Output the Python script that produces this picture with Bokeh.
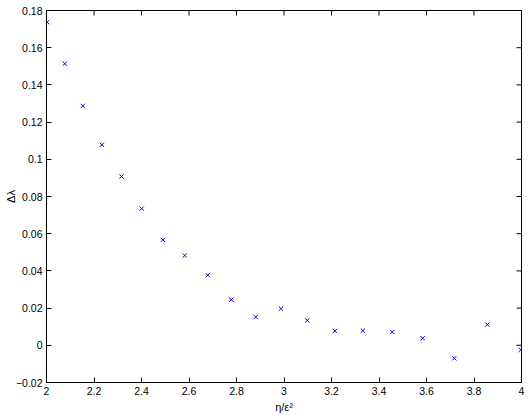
import math
from bokeh.plotting import figure
from bokeh.models import FixedTicker, Range1d
from bokeh.embed import file_html
from bokeh.resources import INLINE

# data
eta_over_eps2 = [2.003, 2.077, 2.153, 2.233, 2.316, 2.401, 2.490, 2.582, 2.679, 2.778,
                 2.881, 2.987, 3.098, 3.214, 3.332, 3.456, 3.584, 3.717, 3.856, 3.997]
delta_lambda = [0.1737, 0.1514, 0.1287, 0.1078, 0.0907, 0.0735, 0.0567, 0.0483, 0.0377, 0.0245,
                0.0152, 0.0197, 0.0134, 0.0077, 0.0079, 0.0071, 0.0038, -0.0070, 0.0111, -0.0025]

x_ticks = [2.0, 2.2, 2.4, 2.6, 2.8, 3.0, 3.2, 3.4, 3.6, 3.8, 4.0]
x_tick_labels = ["2", "2.2", "2.4", "2.6", "2.8", "3", "3.2", "3.4", "3.6", "3.8", "4"]
y_ticks = [-0.02, 0.0, 0.02, 0.04, 0.06, 0.08, 0.1, 0.12, 0.14, 0.16, 0.18]
y_tick_labels = ["\u22120.02", "0", "0.02", "0.04", "0.06", "0.08", "0.1", "0.12", "0.14", "0.16", "0.18"]

FONT = "Liberation Sans"

p = figure(width=531, height=415, output_backend="svg", toolbar_location=None,
           x_range=Range1d(x_ticks[0], x_ticks[-1]), y_range=Range1d(y_ticks[0], y_ticks[-1]),
           min_border_left=46, min_border_right=10, min_border_top=10, min_border_bottom=32,
           x_axis_label="\u03b7/\u03b5\u00b2", y_axis_label="\u0394\u03bb")
p.grid.visible = False
p.outline_line_color = "black"
p.outline_line_width = 1
p.background_fill_color = "white"
p.border_fill_color = "white"

def style(ax, ticks, labels):
    ax.ticker = FixedTicker(ticks=ticks)
    ax.minor_tick_line_color = None
    ax.major_tick_in = 5
    ax.major_tick_out = 0
    ax.axis_line_color = "black"
    ax.major_tick_line_color = "black"
    ax.major_label_overrides = {t: l for t, l in zip(ticks, labels)}
    ax.major_label_text_font = FONT
    ax.major_label_text_color = "black"
    ax.major_label_text_font_size = "10.5px"
    ax.major_label_standoff = 4
    ax.axis_label_text_font = FONT
    ax.axis_label_text_font_size = "11px"
    ax.axis_label_text_font_style = "normal"
    ax.axis_label_text_color = "black"

style(p.xaxis[0], x_ticks, x_tick_labels)
style(p.yaxis[0], y_ticks, y_tick_labels)
p.xaxis[0].axis_label_standoff = 3
p.yaxis[0].axis_label_standoff = -4

# inward ticks on the top and right edges (half of each dash is clipped by the frame)
p.scatter(x_ticks, [y_ticks[-1]] * len(x_ticks), marker="dash", angle=math.pi / 2,
          size=10, line_color="black", line_width=1)
p.scatter([x_ticks[-1]] * len(y_ticks), y_ticks, marker="dash",
          size=10, line_color="black", line_width=1)

p.scatter(eta_over_eps2, delta_lambda, marker="x", size=6, line_color="#0000ff", line_width=1)

open("out.html", "w").write(file_html(p, INLINE))
